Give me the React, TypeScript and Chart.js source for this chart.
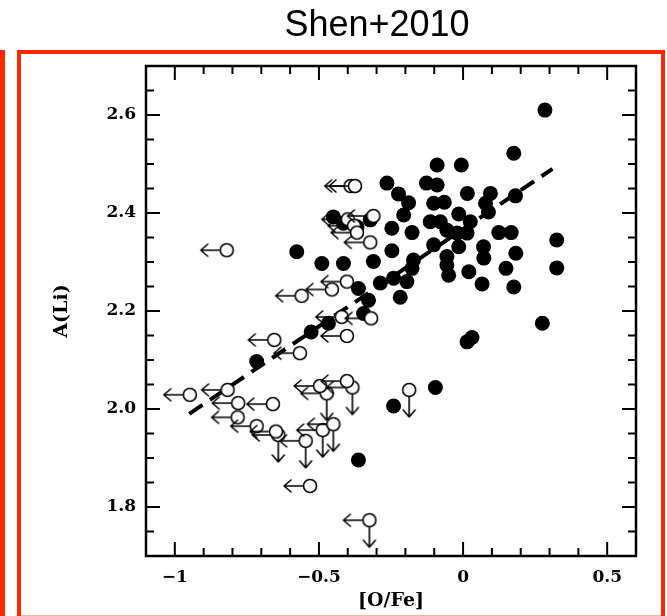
import React, { useEffect, useRef } from 'react';
import { Chart, registerables } from 'chart.js';

Chart.register(...registerables);

const TITLE = 'Shen+2010';
const X_LABEL = '[O/Fe]';
const Y_LABEL = 'A(Li)';

const X_MIN = -1.1;
const X_MAX = 0.6;
const Y_MIN = 1.7;
const Y_MAX = 2.7;

const xMajorTicks = [-1, -0.5, 0, 0.5];
const xMinorTicks = [-0.9, -0.8, -0.7, -0.6, -0.4, -0.3, -0.2, -0.1, 0.1, 0.2, 0.3, 0.4];
const yMajorTicks = [1.8, 2.0, 2.2, 2.4, 2.6];
const yMinorTicks = [1.75, 1.85, 1.9, 1.95, 2.05, 2.1, 2.15, 2.25, 2.3, 2.35, 2.45, 2.5, 2.55, 2.65];

// Detections (filled circles)
const detOFe = [
  0.284, 0.176, -0.09, -0.006, -0.264, -0.127, -0.09, -0.224, -0.189, 0.015,
  0.095, 0.182, -0.102, -0.065, 0.078, 0.088, -0.206, -0.114, -0.079, -0.015,
  0.025, -0.056, -0.021, 0.014, -0.247, -0.177, 0.124, 0.167, 0.325, -0.102,
  -0.015, 0.071, -0.247, 0.072, 0.183, -0.056, -0.056, -0.172, -0.177, 0.325,
  0.149, 0.02, -0.05, -0.287, -0.241, -0.195, 0.066, 0.176, -0.218, 0.275,
  0.014, 0.031, -0.096, -0.241, -0.716, -0.527, -0.467, -0.345, -0.363, -0.45,
  -0.415, -0.368, -0.322, -0.577, -0.49, -0.415, -0.311, -0.363, -0.328,
];
const detALi = [
  2.61, 2.522, 2.498, 2.498, 2.461, 2.461, 2.457, 2.439, 2.421, 2.44,
  2.44, 2.435, 2.42, 2.422, 2.42, 2.402, 2.396, 2.382, 2.382, 2.398,
  2.382, 2.365, 2.359, 2.359, 2.369, 2.36, 2.36, 2.36, 2.345, 2.335,
  2.331, 2.331, 2.323, 2.308, 2.318, 2.311, 2.294, 2.304, 2.287, 2.288,
  2.287, 2.28, 2.273, 2.257, 2.267, 2.26, 2.255, 2.249, 2.228, 2.175,
  2.137, 2.146, 2.044, 2.006, 2.097, 2.157, 2.175, 2.195, 1.896, 2.392,
  2.379, 2.372, 2.386, 2.321, 2.297, 2.297, 2.301, 2.246, 2.222,
];

// Upper limits in [O/Fe] (open circle with left arrow)
const ulOFe = [
  -0.39, -0.375, -0.82, -0.4, -0.378, -0.368, -0.311, -0.322, -0.56, -0.455,
  -0.403, -0.421, -0.319, -0.403, -0.655, -0.566, -0.817, -0.948, -0.78, -0.66,
  -0.782, -0.716, -0.649, -0.496, -0.403, -0.531,
];
const ulALi = [
  2.455, 2.455, 2.324, 2.387, 2.374, 2.36, 2.394, 2.34, 2.231, 2.244,
  2.26, 2.188, 2.185, 2.149, 2.141, 2.114, 2.039, 2.029, 2.012, 2.01,
  1.983, 1.965, 1.954, 2.047, 2.057, 1.843,
];

// Upper limits in both [O/Fe] and A(Li)
const ulBothOFe = [-0.641, -0.546, -0.473, -0.384, -0.487, -0.45, -0.325];
const ulBothALi = [1.947, 1.935, 2.032, 2.044, 1.957, 1.969, 1.773];

// Upper limit in A(Li) only
const ulLiOFe = [-0.187];
const ulLiALi = [2.039];

// Linear fit (dashed)
const fitOFe = [-0.95, 0.31];
const fitALi = [1.99, 2.49];

const RED = '#ff2600';
const tickFont = { family: "'DejaVu Serif', serif", size: 17, weight: 'bold' as const };
const titleFont = { family: "'DejaVu Serif', serif", size: 19, weight: 'bold' as const };

function pts(xs: number[], ys: number[]) {
  return xs.map((x, i) => ({ x, y: ys[i] }));
}

function makeGlyph(left: boolean, down: boolean): HTMLCanvasElement {
  const c = document.createElement('canvas');
  c.width = 64;
  c.height = 64;
  const g = c.getContext('2d')!;
  const cx = 32, cy = 32, r = 6.5;
  g.strokeStyle = '#000';
  g.lineWidth = 1.6;
  g.lineCap = 'round';
  g.lineJoin = 'round';
  if (left) {
    g.beginPath();
    g.moveTo(cx - r, cy);
    g.lineTo(cx - 26, cy);
    g.moveTo(cx - 19, cy - 6);
    g.lineTo(cx - 26, cy);
    g.lineTo(cx - 19, cy + 6);
    g.stroke();
  }
  if (down) {
    g.beginPath();
    g.moveTo(cx, cy + r);
    g.lineTo(cx, cy + 27);
    g.moveTo(cx - 6, cy + 20);
    g.lineTo(cx, cy + 27);
    g.lineTo(cx + 6, cy + 20);
    g.stroke();
  }
  g.beginPath();
  g.arc(cx, cy, r, 0, Math.PI * 2);
  g.fillStyle = '#fff';
  g.fill();
  g.stroke();
  return c;
}

const frameTicks = {
  id: 'frameTicks',
  beforeDatasetsDraw(chart: any) {
    const { ctx, chartArea, scales } = chart;
    const { left, right, top, bottom } = chartArea;
    const xs = scales.x;
    const ys = scales.y;
    ctx.save();
    ctx.strokeStyle = '#000';
    ctx.lineWidth = 2;
    const seg = (x1: number, y1: number, x2: number, y2: number) => {
      ctx.beginPath();
      ctx.moveTo(x1, y1);
      ctx.lineTo(x2, y2);
      ctx.stroke();
    };
    const xt = (vals: number[], len: number) =>
      vals.forEach((v) => {
        const p = xs.getPixelForValue(v);
        seg(p, bottom, p, bottom - len);
        seg(p, top, p, top + len);
      });
    const yt = (vals: number[], len: number) =>
      vals.forEach((v) => {
        const p = ys.getPixelForValue(v);
        seg(left, p, left + len, p);
        seg(right, p, right - len, p);
      });
    xt(xMajorTicks, 14);
    xt(xMinorTicks, 8);
    yt(yMajorTicks, 14);
    yt(yMinorTicks, 8);
    ctx.lineWidth = 2.5;
    ctx.strokeRect(left, top, right - left, bottom - top);
    ctx.restore();
  },
};

export default function App() {
  const canvasRef = useRef<HTMLCanvasElement | null>(null);

  useEffect(() => {
    const canvas = canvasRef.current;
    if (!canvas) return;
    const leftGlyph = makeGlyph(true, false);
    const bothGlyph = makeGlyph(true, true);
    const downGlyph = makeGlyph(false, true);

    const chart = new Chart(canvas, {
      type: 'scatter',
      data: {
        datasets: [
          {
            label: 'UL [O/Fe]',
            data: pts(ulOFe, ulALi),
            pointStyle: leftGlyph as any,
            pointRadius: 6,
            order: 1,
          },
          {
            label: 'UL both',
            data: pts(ulBothOFe, ulBothALi),
            pointStyle: bothGlyph as any,
            pointRadius: 6,
            order: 1,
          },
          {
            label: 'UL A(Li)',
            data: pts(ulLiOFe, ulLiALi),
            pointStyle: downGlyph as any,
            pointRadius: 6,
            order: 1,
          },
          {
            label: 'fit',
            data: pts(fitOFe, fitALi),
            showLine: true,
            borderColor: '#000',
            borderWidth: 4,
            borderDash: [16, 9],
            pointRadius: 0,
            order: 2,
          } as any,
          {
            label: 'detections',
            data: pts(detOFe, detALi),
            pointStyle: 'circle',
            pointRadius: 7.5,
            pointBackgroundColor: '#000',
            pointBorderWidth: 0,
            order: 3,
          },
        ],
      },
      options: {
        responsive: false,
        animation: false,
        devicePixelRatio: 1,
        layout: { padding: { top: 66, right: 31, bottom: 0, left: 0 } },
        plugins: {
          legend: { display: false },
          tooltip: { enabled: false },
          title: { display: false },
        },
        scales: {
          x: {
            type: 'linear',
            min: X_MIN,
            max: X_MAX,
            afterFit: (s: any) => {
              s.height = 60;
            },
            afterBuildTicks: (s: any) => {
              s.ticks = xMajorTicks.map((v) => ({ value: v }));
            },
            grid: { display: false, drawTicks: false },
            border: { display: false },
            ticks: {
              padding: 11,
              color: '#000',
              font: tickFont,
              callback: (v: any) => {
                const n = Number(v);
                if (n === 0) return '0';
                return n < 0 ? '\u2212' + String(-n) : String(n);
              },
            },
            title: {
              display: true,
              text: X_LABEL,
              color: '#000',
              font: titleFont,
              padding: { top: 0, bottom: 4 },
            },
          },
          y: {
            type: 'linear',
            min: Y_MIN,
            max: Y_MAX,
            afterFit: (s: any) => {
              s.width = 146;
            },
            afterBuildTicks: (s: any) => {
              s.ticks = yMajorTicks.map((v) => ({ value: v }));
            },
            grid: { display: false, drawTicks: false },
            border: { display: false },
            ticks: {
              padding: 10,
              color: '#000',
              font: tickFont,
              callback: (v: any) => Number(v).toFixed(1),
            },
            title: {
              display: true,
              text: Y_LABEL,
              color: '#000',
              font: titleFont,
              padding: { top: 51, bottom: 0 },
            },
          },
        },
      },
      plugins: [frameTicks],
    });
    return () => chart.destroy();
  }, []);

  return (
    <div style={{ position: 'absolute', left: 0, top: 0, width: 667, height: 616, background: '#fff', overflow: 'hidden' }}>
      <div style={{ position: 'absolute', left: 0, top: 50, width: 5, height: 566, background: RED }} />
      <div
        style={{
          position: 'absolute',
          left: 17,
          top: 50,
          width: 648,
          height: 566,
          boxSizing: 'border-box',
          borderTop: `4px solid ${RED}`,
          borderLeft: `4px solid ${RED}`,
          borderRight: `4px solid ${RED}`,
        }}
      />
      <div style={{ position: 'absolute', left: 21, top: 615, width: 640, height: 1, background: '#ffb4a6' }} />
      <canvas ref={canvasRef} width={667} height={616} style={{ position: 'absolute', left: 0, top: 0, width: 667, height: 616 }} />
      <div
        style={{
          position: 'absolute',
          left: 377,
          top: 5.5,
          transform: 'translateX(-50%)',
          fontFamily: "'Liberation Sans', Arial, sans-serif",
          fontSize: 36,
          lineHeight: '36px',
          color: '#000',
          whiteSpace: 'nowrap',
        }}
      >
        {TITLE}
      </div>
    </div>
  );
}
